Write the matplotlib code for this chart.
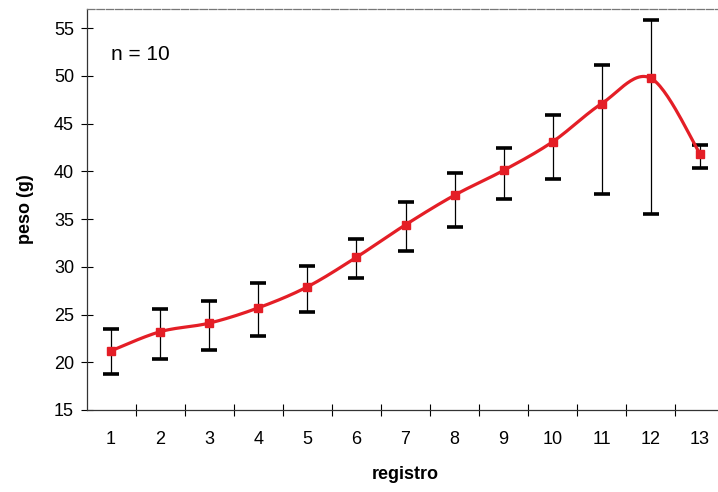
import numpy as np
import matplotlib
matplotlib.use("Agg")
import matplotlib.pyplot as plt

registro = list(range(1, 14))
peso = [21.2, 23.2, 24.1, 25.7, 27.9, 31.0, 34.4, 37.5, 40.1, 43.1, 47.1, 49.75, 41.85]
err_upper = [23.5, 25.6, 26.45, 28.3, 30.1, 32.9, 36.8, 39.8, 42.4, 45.9, 51.1, 55.8, 42.75]
err_lower = [18.75, 20.35, 21.3, 22.7, 25.25, 28.8, 31.7, 34.2, 37.1, 39.15, 37.6, 35.5, 40.3]
yticks = [15, 20, 25, 30, 35, 40, 45, 50, 55]

plt.rcParams['font.family'] = ['Liberation Sans', 'DejaVu Sans']

fig = plt.figure(figsize=(7.18, 4.92), dpi=100)
W, H = 718, 492
left, right, top, bottom = 86.5, 724.5, 9, 410
ax = fig.add_axes([left / W, 1 - bottom / H, (right - left) / W, (bottom - top) / H])

x = np.array(registro, dtype=float)
y = np.array(peso)

# Excel-style smoothed line (Catmull-Rom Bezier through the points)
def smooth(xs, ys, n=30):
    px, py = [], []
    N = len(xs)
    for i in range(N - 1):
        p0 = (xs[max(i - 1, 0)], ys[max(i - 1, 0)])
        p1 = (xs[i], ys[i])
        p2 = (xs[i + 1], ys[i + 1])
        p3 = (xs[min(i + 2, N - 1)], ys[min(i + 2, N - 1)])
        c1 = (p1[0] + (p2[0] - p0[0]) / 6, p1[1] + (p2[1] - p0[1]) / 6)
        c2 = (p2[0] - (p3[0] - p1[0]) / 6, p2[1] - (p3[1] - p1[1]) / 6)
        t = np.linspace(0, 1, n)
        bx = (1 - t) ** 3 * p1[0] + 3 * (1 - t) ** 2 * t * c1[0] + 3 * (1 - t) * t ** 2 * c2[0] + t ** 3 * p2[0]
        by = (1 - t) ** 3 * p1[1] + 3 * (1 - t) ** 2 * t * c1[1] + 3 * (1 - t) * t ** 2 * c2[1] + t ** 3 * p2[1]
        px.extend(bx)
        py.extend(by)
    return np.array(px), np.array(py)

lo = y - np.array(err_lower)
hi = np.array(err_upper) - y
ax.errorbar(x, y, yerr=[lo, hi], fmt='none', ecolor='black', elinewidth=0.9,
            capsize=5.5, capthick=2.6, zorder=2)
sx, sy = smooth(x, y)
ax.plot(sx, sy, color='#e41e26', lw=2.3, zorder=3, solid_capstyle='round')
ax.plot(x, y, ls='none', marker='s', ms=5.5, color='#e41e26', zorder=4)

ax.set_xlim(0.5, 13.5)
ax.set_ylim(15, 57)
ax.set_yticks(yticks)
ax.set_yticklabels([str(v) for v in yticks], fontsize=13)
ax.set_xticks(registro)
ax.set_xticklabels([str(v) for v in registro], fontsize=13)
ax.set_xticks(np.arange(1.5, 13.5, 1), minor=True)
ax.tick_params(axis='x', which='major', length=0, pad=15)
ax.tick_params(axis='x', which='minor', direction='inout', length=9, width=0.8)
ax.tick_params(axis='y', which='major', direction='inout', length=8, width=0.8, pad=5)

for s in ax.spines.values():
    s.set_linewidth(0.9)
    s.set_color('#333333')
ax.spines['top'].set_color('#777777')
ax.spines['top'].set_linestyle((0, (6, 1.5)))

ax.set_xlabel('registro', fontsize=13, fontweight='bold', labelpad=13)
ax.set_ylabel('peso (g)', fontsize=13, fontweight='bold', labelpad=14)
ax.text(1.0, 52.2, 'n = 10', fontsize=15, ha='left', va='center')

fig.savefig('out.png', dpi=100)
